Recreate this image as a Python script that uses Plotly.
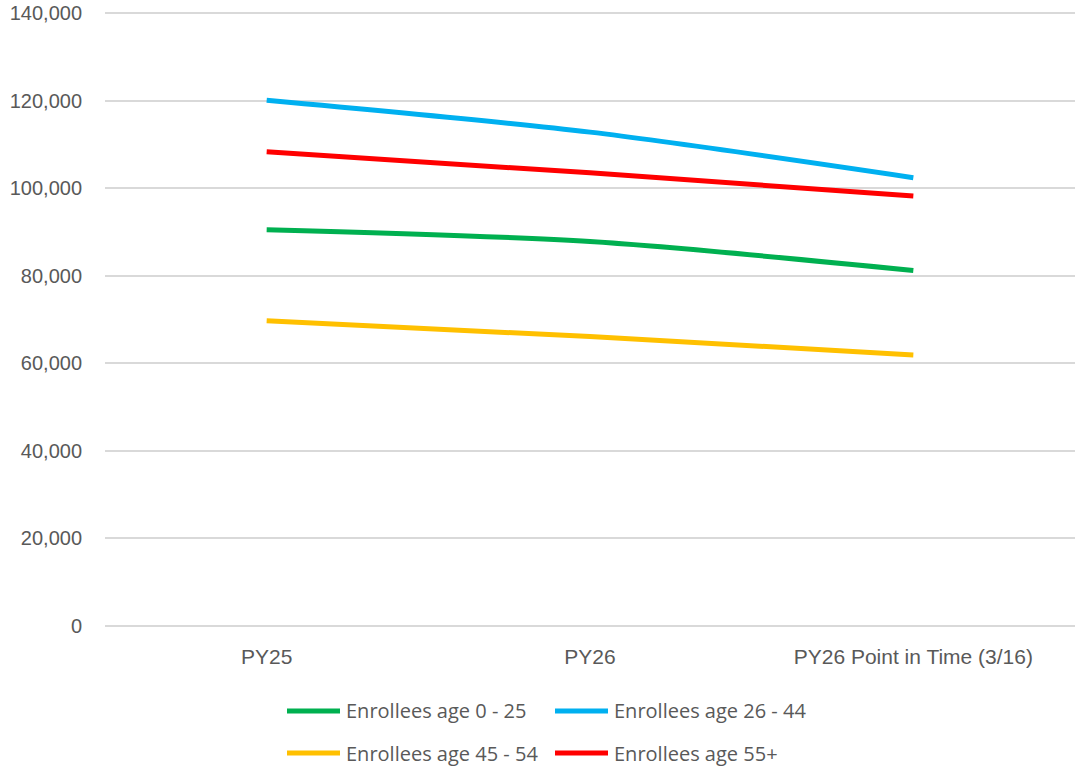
import plotly.graph_objects as go

# Enrollment by age band across plan years
periods = ["PY25", "PY26", "PY26 Point in Time (3/16)"]
age_0_25 = [90500, 87800, 81200]
age_26_44 = [120100, 112800, 102400]
age_45_54 = [69700, 66100, 61900]
age_55_plus = [108300, 103500, 98200]

series_names = [
    "Enrollees age 0 - 25",
    "Enrollees age 26 - 44",
    "Enrollees age 45 - 54",
    "Enrollees age 55+",
]
series_values = [age_0_25, age_26_44, age_45_54, age_55_plus]
series_colors = ["#00B050", "#00B0F0", "#FFC000", "#FF0000"]

y_ticks = list(range(0, 140001, 20000))
y_tick_text = ["{:,}".format(v) for v in y_ticks]

fig = go.Figure()
for name, vals, col in zip(series_names, series_values, series_colors):
    fig.add_trace(go.Scatter(
        x=periods, y=vals, name=name, mode="lines",
        line=dict(color=col, width=5, shape="spline", smoothing=0.8),
        showlegend=False,
    ))

W, H = 1076, 767
pl, pr, pt, pb = 105, 1075, 10, 629

# Legend drawn as two rows of line samples with labels below the plot
legend_font = dict(family="Open Sans", size=20, color="#595959")
legend_pos = [(287, 711), (555, 711), (287, 753), (555, 753)]
for (lx, ly), name, col in zip(legend_pos, series_names, series_colors):
    x0 = (lx - pl) / (pr - pl)
    x1 = (lx + 53 - pl) / (pr - pl)
    yy = (pb - ly) / (pb - pt)
    fig.add_shape(type="line", xref="paper", yref="paper",
                  x0=x0, x1=x1, y0=yy, y1=yy,
                  line=dict(color=col, width=5))
    fig.add_annotation(xref="paper", yref="paper", x=(lx + 57 - pl) / (pr - pl), y=yy,
                       text=name, showarrow=False, xanchor="left", yanchor="middle",
                       font=legend_font)

fig.update_layout(
    width=W, height=H,
    margin=dict(l=pl, r=W - pr, t=pt, b=H - pb),
    plot_bgcolor="white", paper_bgcolor="white",
    font=dict(family="Liberation Sans", size=20, color="#595959"),
)
fig.update_xaxes(
    type="category", range=[-0.5, 2.5],
    showgrid=False, showline=False, zeroline=False,
    ticks="", ticklabelstandoff=13,
    tickfont=dict(size=21, color="#595959"),
)
fig.update_yaxes(
    range=[-700, 140700], tickvals=y_ticks, ticktext=y_tick_text,
    showgrid=True, gridcolor="#D9D9D9", gridwidth=1.5,
    zeroline=False, showline=False, ticks="",
    ticklabelstandoff=22,
    tickfont=dict(size=20, color="#595959"),
)

fig.write_html("out.html")
